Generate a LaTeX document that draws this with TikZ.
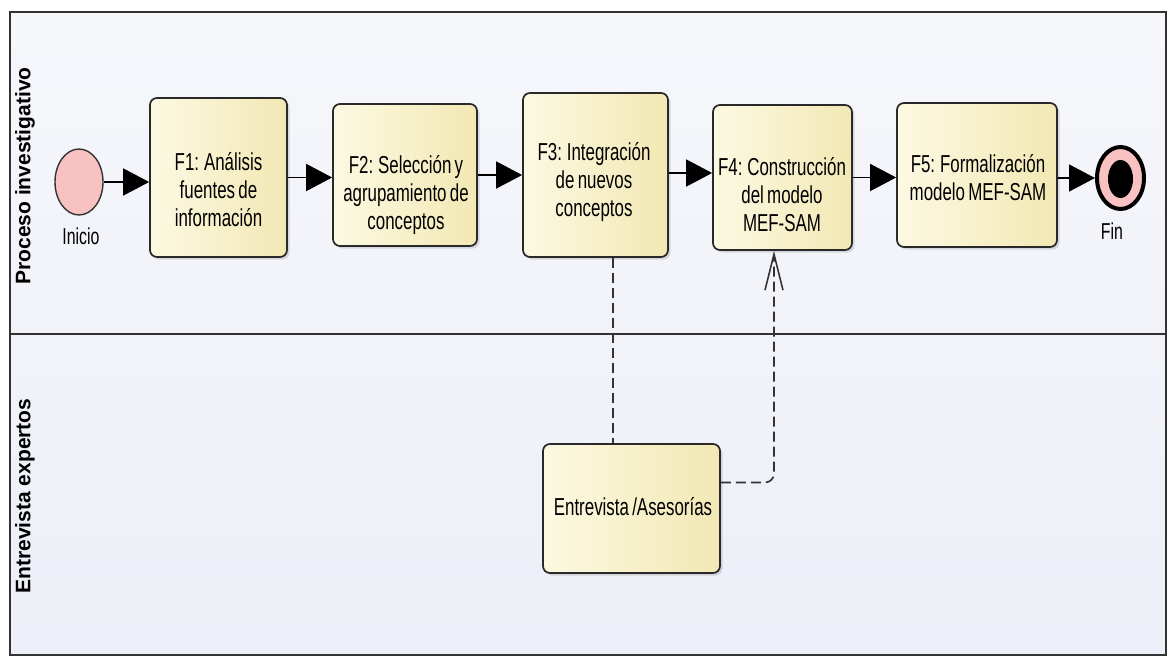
\documentclass[tikz,border=0pt]{standalone}
\usepackage{fontspec}
\setmainfont{Liberation Sans}[FakeStretch=0.69, WordSpace=0.7]
\newfontfamily\lanefont{Liberation Sans}[FakeStretch=1.0]
\usetikzlibrary{arrows.meta,shapes.geometric,shadows}

\definecolor{laneA}{HTML}{F6F7FB}
\definecolor{laneB}{HTML}{ECEFF7}
\definecolor{frame}{HTML}{333333}
\definecolor{boxL}{HTML}{FCF9E2}
\definecolor{boxR}{HTML}{F2E8B4}
\definecolor{evfill}{HTML}{F9C2C2}

\tikzset{
  lane/.style={draw=frame, line width=2.4pt},
  task/.style={rectangle, rounded corners=7pt, draw=frame!80!black, line width=1.7pt,
    left color=boxL, right color=boxR, inner sep=0pt,
    drop shadow={shadow xshift=2.5pt, shadow yshift=-2.5pt, opacity=0.25}},
  tasktext/.style={align=center, font=\fontsize{24.5}{28}\selectfont, inner sep=0pt},
  evlabel/.style={font=\fontsize{23}{26}\selectfont, inner sep=0pt},
  lanelabel/.style={rotate=90, font=\lanefont\bfseries\fontsize{21}{24}\selectfont, inner sep=0pt},
  flow/.style={draw=black, line width=1.6pt, -{Triangle[length=26pt, width=27pt]}},
  assoc/.style={draw=frame, line width=1.6pt, dash pattern=on 10pt off 5pt},
  msgflow/.style={assoc, rounded corners=9pt,
    -{Straight Barb[length=36pt, width=18pt, line width=1.6pt]}},
}

\begin{document}
\begin{tikzpicture}[x=1pt, y=-1pt]
  \useasboundingbox (0,0) rectangle (1168,658);
  \fill[white] (0,0) rectangle (1168,658);

  % swimlanes
  \shade[top color=laneA, bottom color=laneB] (10,12) rectangle (1166,655);
  \draw[lane] (10,12) rectangle (1166,655);
  \draw[lane] (10,334) -- (1166,334);
  \node[lanelabel] (laneA) at (25,176) {Proceso investigativo};
  \node[lanelabel] (laneB) at (25,496) {Entrevista expertos};

  % start and end events
  \node[ellipse, minimum width=48pt, minimum height=66pt, inner sep=0pt,
        fill=evfill, draw=frame, line width=1.4pt] (inicio) at (79,182) {};
  \node[evlabel] (inicioL) at (81,236) {Inicio};
  \node[ellipse, minimum width=47pt, minimum height=62pt, inner sep=0pt,
        fill=evfill, draw=black, line width=4pt] (fin) at (1120.5,178) {};
  \node[ellipse, minimum width=25pt, minimum height=38pt, inner sep=0pt,
        fill=black] (finIn) at (1120.5,179) {};
  \node[evlabel] (finL) at (1112,231) {Fin};

  % tasks
  \node[task, minimum width=137pt, minimum height=159pt] (f1) at (218.5,177.5) {};
  \node[task, minimum width=144pt, minimum height=142pt] (f2) at (405,175) {};
  \node[task, minimum width=145pt, minimum height=164pt] (f3) at (595.5,175) {};
  \node[task, minimum width=139pt, minimum height=145pt] (f4) at (782.5,177.5) {};
  \node[task, minimum width=160pt, minimum height=144pt] (f5) at (977,175) {};
  \node[task, minimum width=177pt, minimum height=129pt] (ent) at (631.5,508.5) {};

  \node[tasktext] (f1T) at (218.5,190) {F1: Análisis\\fuentes de\\información};
  \node[tasktext] (f2T) at (406,195) {F2: Selección y\\agrupamiento de\\conceptos};
  \node[tasktext] (f3T) at (594,182) {F3: Integración\\de nuevos\\conceptos};
  \node[tasktext] (f4T) at (782,195) {F4: Construcción\\del modelo\\MEF-SAM};
  \node[tasktext] (f5T) at (978,178) {F5: Formalización\\modelo MEF-SAM};
  \node[tasktext] (entT) at (633,507) {Entrevista /Asesorías};

  % sequence flows
  \draw[flow] (inicio.east) -- (inicio.east -| f1.west);
  \draw[flow] (f1.east) -- (f1.east -| f2.west);
  \draw[flow] (f2.east) -- (f2.east -| f3.west);
  \draw[flow] ([yshift=2pt]f3.east) -- ([yshift=2pt]f3.east -| f4.west);
  \draw[flow] (f4.east) -- (f4.east -| f5.west);
  \draw[flow] ([yshift=-3pt]f5.east) -- ([yshift=-3pt]f5.east -| fin.west);

  % association and message flow with the interview lane
  \draw[assoc] ([xshift=17.5pt]f3.south) -- ([xshift=17.5pt]f3.south |- ent.north);
  \draw[msgflow] ([yshift=26pt]ent.east) -| ([xshift=-8.5pt]f4.south);
\end{tikzpicture}
\end{document}
